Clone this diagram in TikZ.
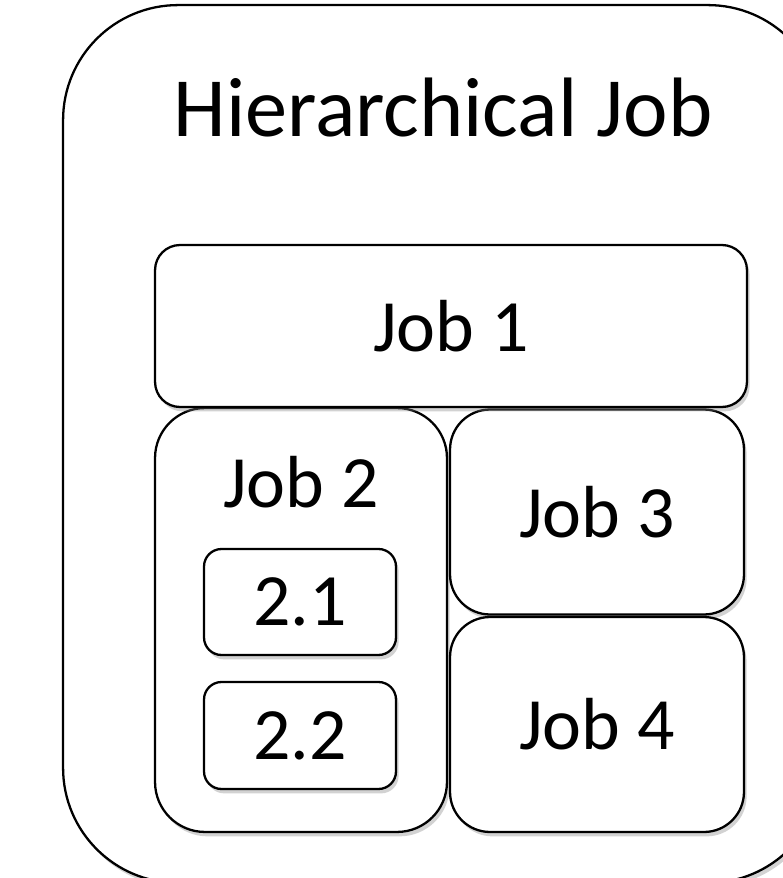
\documentclass[tikz,border=0pt]{standalone}
\usepackage{fontspec}
\setmainfont{Carlito}
\usetikzlibrary{shadows}
\begin{document}
\begin{tikzpicture}[x=0.02cm, y=-0.02cm,
    jobbox/.style={draw=black, line width=1.3pt, fill=white, inner sep=0pt,
        rounded corners=#1,
        drop shadow={shadow xshift=1.5pt, shadow yshift=-2.5pt, opacity=0.35}},
    jobtext/.style={font=\fontsize{42}{50}\selectfont}]
    % Page
    \useasboundingbox (0,0) rectangle (783,878);

    % Outer frame
    \node[jobbox=2.3cm, minimum width=15.2cm, minimum height=17.56cm] (hier) at (443,444) {};
    \node[font=\fontsize{48}{56}\selectfont] (title) at (443,108) {Hierarchical Job};

    % Job 2 with its sub jobs
    \node[jobbox=1cm, minimum width=5.84cm, minimum height=8.48cm] (job2) at (301,620) {};
    \node[jobtext] (job2label) at (301,482) {Job 2};
    \node[jobbox=0.35cm, minimum width=3.84cm, minimum height=2.12cm, jobtext] (job21) at (300,602) {2.1};
    \node[jobbox=0.35cm, minimum width=3.84cm, minimum height=2.14cm, jobtext] (job22) at (300,735.5) {2.2};

    % Job 3 and Job 4
    \node[jobbox=0.8cm, minimum width=5.88cm, minimum height=4.1cm, jobtext] (job3) at (597,512) {Job 3};
    \node[jobbox=0.8cm, minimum width=5.88cm, minimum height=4.3cm, jobtext] (job4) at (597,724.5) {Job 4};

    % Job 1
    \node[jobbox=0.5cm, minimum width=11.84cm, minimum height=3.24cm, jobtext] (job1) at (451,326) {Job 1};
\end{tikzpicture}
\end{document}
